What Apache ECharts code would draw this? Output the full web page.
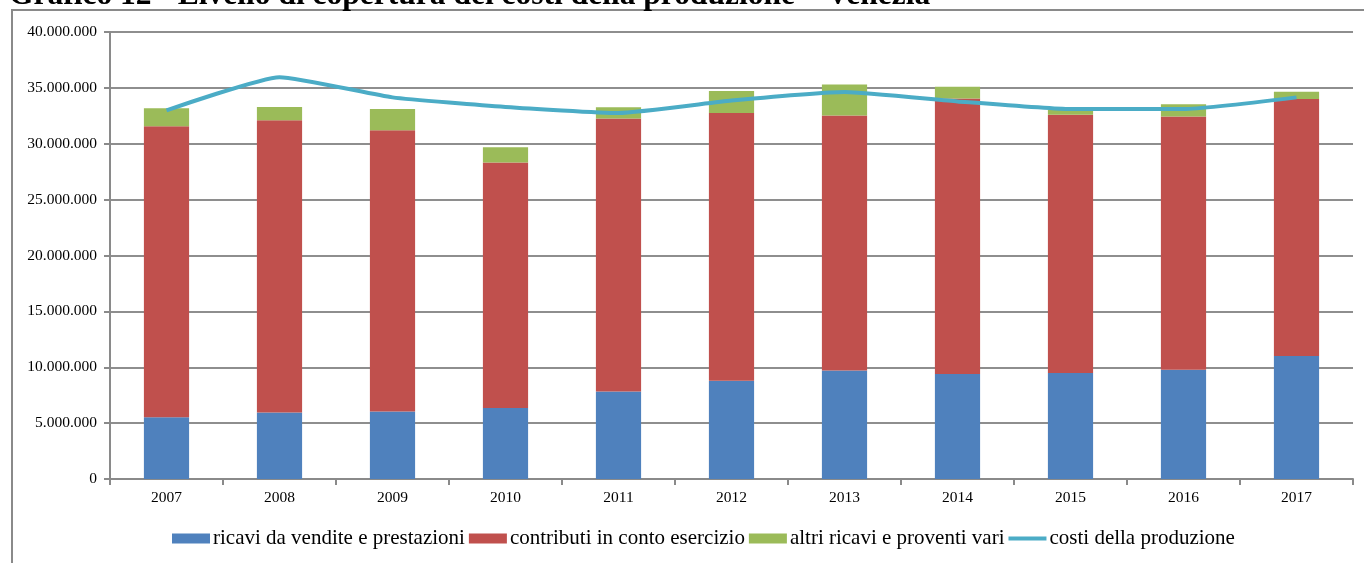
<!DOCTYPE html>
<html>
<head>
<meta charset="utf-8">
<style>
  html, body { margin: 0; padding: 0; background: #fff; }
  #chart { width: 1364px; height: 563px; }
</style>
<script src="https://cdn.jsdelivr.net/npm/echarts@6/dist/echarts.min.js"></script>
</head>
<body>
<div id="chart"></div>
<script>
// Anni di riferimento
const years = ['2007', '2008', '2009', '2010', '2011', '2012', '2013', '2014', '2015', '2016', '2017'];

// Valori in euro
const ricaviVendite = [5520000, 5960000, 6030000, 6360000, 7840000, 8790000, 9710000, 9390000, 9480000, 9780000, 11000000];
const contributiEsercizio = [26040000, 26140000, 25170000, 21960000, 24410000, 23960000, 22810000, 24670000, 23120000, 22650000, 23000000];
const altriRicavi = [1610000, 1190000, 1900000, 1370000, 1010000, 1970000, 2790000, 1040000, 450000, 1100000, 660000];
const costiProduzione = [32990000, 35960000, 34150000, 33290000, 32750000, 33860000, 34630000, 33790000, 33100000, 33100000, 34150000];

const seriesNames = ['ricavi da vendite e prestazioni', 'contributi in conto esercizio', 'altri ricavi e proventi vari', 'costi della produzione'];
const titleText = 'Grafico 12 - Livello di copertura dei costi della produzione \u2013 Venezia';

const serif = '"Liberation Serif", "DejaVu Serif", serif';

function formatIt(v) {
  return String(Math.round(v)).replace(/\B(?=(\d{3})+(?!\d))/g, '.');
}

const chart = echarts.init(document.getElementById('chart'), null, { renderer: 'canvas' });

const barCommon = {
  type: 'bar',
  stack: 'ricavi',
  barCategoryGap: '60%',
  emphasis: { disabled: true }
};

chart.setOption({
  animation: false,
  backgroundColor: '#ffffff',
  graphic: [
    {
      type: 'rect',
      shape: { x: 12, y: 10, width: 1420, height: 620 },
      style: { fill: 'none', stroke: '#8a8a8a', lineWidth: 2 },
      silent: true,
      z: -1
    },
    {
      type: 'text',
      x: 9,
      y: 12,
      style: {
        text: titleText,
        font: 'bold 31.5px ' + serif,
        fill: '#000',
        textVerticalAlign: 'bottom'
      },
      silent: true
    }
  ],
  grid: { left: 110, right: 11, top: 32, bottom: 84, containLabel: false },
  legend: {
    bottom: 9,
    left: 167,
    itemWidth: 38,
    itemHeight: 10,
    itemGap: 4,
    icon: 'rect',
    textStyle: { fontFamily: serif, fontSize: 21, color: '#000', padding: [0, 0, 0, -2] },
    data: [
      { name: seriesNames[0], icon: 'rect' },
      { name: seriesNames[1], icon: 'rect' },
      { name: seriesNames[2], icon: 'rect' },
      { name: seriesNames[3], icon: 'path://M0,3 L40,3 L40,7 L0,7 Z' }
    ]
  },
  xAxis: {
    type: 'category',
    data: years,
    axisLine: { lineStyle: { color: '#8a8a8a', width: 2 } },
    axisTick: { show: true, length: 6, lineStyle: { color: '#8a8a8a', width: 2 } },
    axisLabel: { fontFamily: serif, fontSize: 15.5, color: '#000', margin: 11 }
  },
  yAxis: {
    type: 'value',
    min: 0,
    max: 40000000,
    interval: 5000000,
    axisLine: { show: true, lineStyle: { color: '#8a8a8a', width: 2 } },
    axisTick: { show: true, length: 6, lineStyle: { color: '#8a8a8a', width: 2 } },
    splitLine: { lineStyle: { color: '#8e8e8e', width: 2 } },
    axisLabel: { fontFamily: serif, fontSize: 15.5, color: '#000', margin: 13, formatter: formatIt }
  },
  series: [
    Object.assign({ name: seriesNames[0], data: ricaviVendite, itemStyle: { color: '#4F81BD' } }, barCommon),
    Object.assign({ name: seriesNames[1], data: contributiEsercizio, itemStyle: { color: '#C0504D' } }, barCommon),
    Object.assign({ name: seriesNames[2], data: altriRicavi, itemStyle: { color: '#9BBB59' } }, barCommon),
    {
      name: seriesNames[3],
      type: 'line',
      data: costiProduzione,
      symbol: 'none',
      smooth: 0.15,
      lineStyle: { color: '#4BACC6', width: 4 },
      itemStyle: { color: '#4BACC6' },
      emphasis: { disabled: true },
      z: 5
    }
  ]
});
</script>
</body>
</html>
